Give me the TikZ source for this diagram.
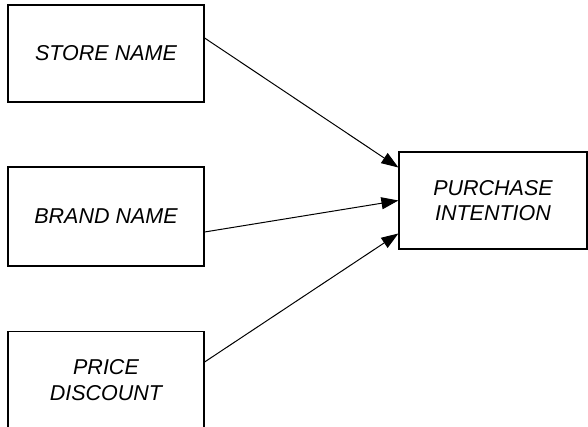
\documentclass[tikz,border=0pt]{standalone}
\usepackage{fontspec}
\setmainfont{Liberation Sans}
\usetikzlibrary{arrows.meta}
\begin{document}
\begin{tikzpicture}[x=0.5pt,y=-0.5pt,
    varbox/.style={draw, line width=0.6pt, minimum width=98pt, minimum height=48.5pt, inner sep=0pt, align=center, font=\fontsize{10.75}{12.8}\selectfont\itshape},
    >={Triangle[length=8.5pt,width=6pt]}]
    \useasboundingbox (0,0) rectangle (588,427);
    \clip (0,0) rectangle (588,427);
    \node[varbox] at (106,53.5) (SN) {STORE NAME};
    \node[varbox, minimum height=49.5pt] at (106,216.5) (BN) {BRAND NAME};
    \node[varbox] at (106,380) (PD) {PRICE\\DISCOUNT};
    \node[varbox, minimum width=94pt] at (493,200.5) (PI) {PURCHASE\\INTENTION};
    \draw[->, line width=0.5pt] ([yshift=7.75pt]SN.east) -- ([yshift=16.5pt]PI.west);
    \draw[->, line width=0.5pt] ([yshift=-7.75pt]BN.east) -- (PI.west);
    \draw[->, line width=0.5pt] ([yshift=9pt]PD.east) -- ([yshift=-16.5pt]PI.west);
\end{tikzpicture}
\end{document}
